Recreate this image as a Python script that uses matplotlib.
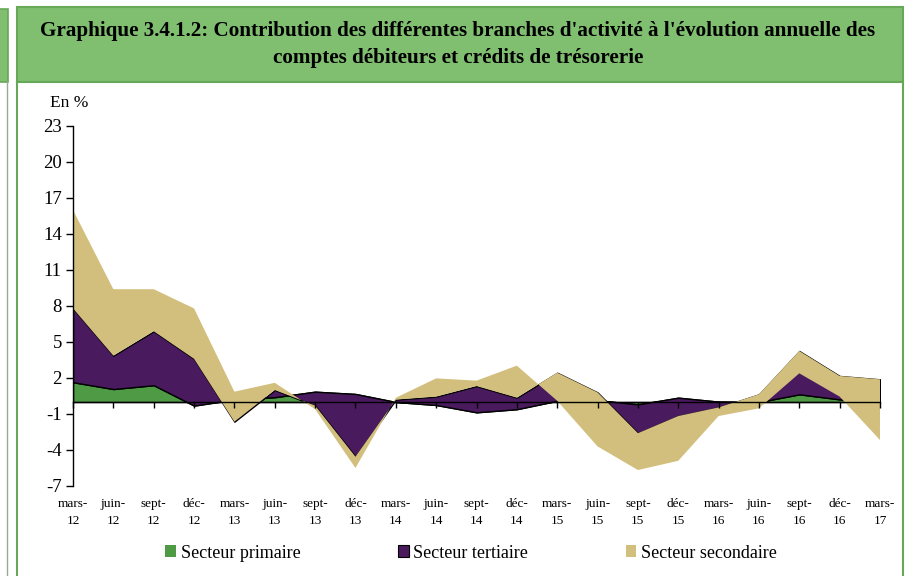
import numpy as np
import matplotlib
matplotlib.use("Agg")
import matplotlib.pyplot as plt
from matplotlib.patches import Rectangle, Patch
from matplotlib.lines import Line2D
import matplotlib.transforms as mtransforms

# quarters (two-line tick labels)
mois = ["mars-", "juin-", "sept-", "déc-"] * 5 + ["mars-"]
annees = ["12"] * 4 + ["13"] * 4 + ["14"] * 4 + ["15"] * 4 + ["16"] * 4 + ["17"]

# contributions (points de %)
primaire = [1.65, 1.08, 1.40, -0.30, 0.20, 0.40, 0.86, 0.67, 0.00, -0.25, -0.86,
            -0.60, 0.10, 0.15, -0.20, 0.36, 0.03, 0.00, 0.64, 0.22, 0.00]
tertiaire = [6.15, 2.78, 4.50, 3.90, -1.84, 0.60, -1.16, -5.23, 0.20, 0.70, 2.19,
             0.96, 2.34, 0.65, -2.40, -1.53, -0.48, 0.64, 3.61, 1.95, 1.89]
secondaire = [8.20, 5.54, 3.50, 4.20, 2.50, 0.60, -0.30, -0.94, 0.15, 1.52, 0.45,
              2.67, -2.34, -4.50, -3.07, -3.73, -0.72, -1.17, -1.86, -1.72, -5.06]

yticks = [-7, -4, -1, 2, 5, 8, 11, 14, 17, 20, 23]

col_prim = "#4f9a45"
col_tert = "#4a1a5f"
col_sec = "#d3bf7d"
head_green = "#80be70"
edge_green = "#67a858"

plt.rcParams["font.family"] = ["Liberation Serif", "DejaVu Serif"]

W, H = 905, 576
fig = plt.figure(figsize=(W / 100, H / 100), dpi=100)

def px(x0, y0, x1, y1):
    # pixel box (top-left origin) -> figure fraction rect
    return (x0 / W, 1 - y1 / H, (x1 - x0) / W, (y1 - y0) / H)

# neighbouring panel fragment on the left
r = px(-2, 9, 8, 82)
fig.add_artist(Rectangle(r[:2], r[2], r[3], transform=fig.transFigure,
                         facecolor=head_green, edgecolor=edge_green, lw=1.2))
fig.add_artist(Line2D([7 / W, 7 / W], [0, 1 - 82 / H], transform=fig.transFigure,
                      color="#9aa89a", lw=1.0))

# header box
r = px(17, 7, 903, 82)
fig.add_artist(Rectangle(r[:2], r[2], r[3], transform=fig.transFigure,
                         facecolor=head_green, edgecolor=edge_green, lw=1.5))
# panel borders
for xx in (17, 903):
    fig.add_artist(Line2D([xx / W, xx / W], [0, 1 - 82 / H], transform=fig.transFigure,
                          color=edge_green, lw=1.5))

fig.text(458 / W, 1 - 31 / H,
         "Graphique 3.4.1.2: Contribution des différentes branches d'activité à l'évolution annuelle des",
         ha="center", va="center", fontsize=15.2, fontweight="bold")
fig.text(458 / W, 1 - 58 / H, "comptes débiteurs et crédits de trésorerie",
         ha="center", va="center", fontsize=15.2, fontweight="bold")

ax = fig.add_axes(px(73, 126, 880, 486))
x = np.arange(len(primaire))
c1 = np.array(primaire)
c2 = c1 + np.array(tertiaire)
c3 = c2 + np.array(secondaire)

ax.fill_between(x, 0, c1, facecolor=col_prim, edgecolor="black", lw=1.0, zorder=1)
ax.fill_between(x, c1, c2, facecolor=col_tert, edgecolor="black", lw=1.0, zorder=1.1)
ax.fill_between(x, c2, c3, facecolor=col_sec, edgecolor="none", lw=0, zorder=1.2)

ax.set_xlim(0, len(x) - 1)
ax.set_ylim(-7, 23)
ax.set_yticks(yticks)
ax.set_yticklabels([str(v) for v in yticks], fontsize=13.5)
ax.set_xticks(x)
ax.set_xticklabels([])
ax.spines["top"].set_visible(False)
ax.spines["right"].set_visible(False)
ax.spines["bottom"].set_position(("data", 0))
ax.spines["bottom"].set_linewidth(1.0)
ax.spines["left"].set_linewidth(1.0)
ax.tick_params(axis="x", direction="out", length=4, width=1.0)
ax.tick_params(axis="y", direction="out", length=5, width=1.0, pad=3)

trans = mtransforms.blended_transform_factory(ax.transData, fig.transFigure)
for i in x:
    ax.text(i, 1 - 504 / H, mois[i], transform=trans, ha="center", va="center",
            fontsize=9.5)
    ax.text(i, 1 - 521 / H, annees[i], transform=trans, ha="center", va="center",
            fontsize=9.5)

fig.text(69 / W, 1 - 103 / H, "En %", ha="center", va="center", fontsize=12.5)

handles = [Patch(facecolor=col_prim, edgecolor="none"),
           Patch(facecolor=col_tert, edgecolor="black", lw=0.8),
           Patch(facecolor=col_sec, edgecolor="none")]
fig.legend(handles, ["Secteur primaire", "Secteur tertiaire", "Secteur secondaire"],
           loc="center", bbox_to_anchor=(471 / W, 1 - 553 / H), ncol=3, frameon=False,
           fontsize=13, handlelength=0.6, handleheight=0.6, handletextpad=0.25,
           columnspacing=5.4)

fig.savefig("out.png", dpi=100)
